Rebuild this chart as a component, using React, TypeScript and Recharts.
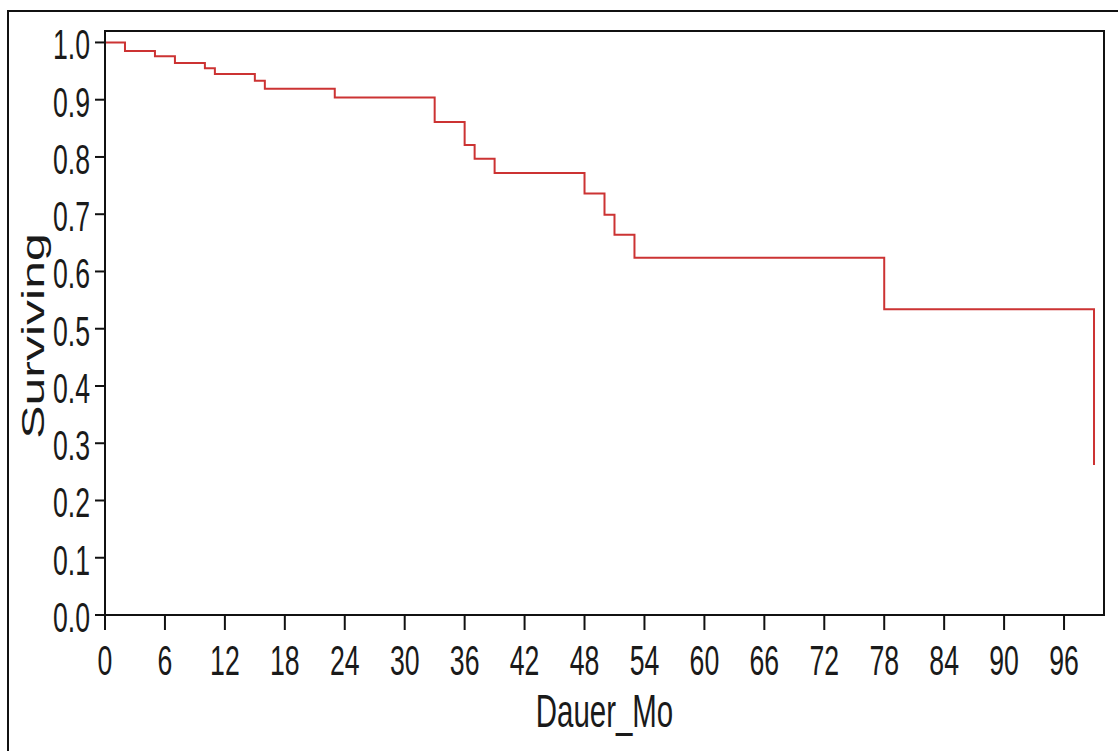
import React from "react";
import { LineChart, Line, XAxis, YAxis, ReferenceArea } from "recharts";

const months = [0, 2, 5, 7, 10, 11, 15, 16, 23, 33, 36, 37, 39, 48, 50, 51, 53, 78, 99];
const surviving = [1.0, 0.985, 0.976, 0.964, 0.955, 0.945, 0.933, 0.919, 0.904, 0.861, 0.821, 0.797, 0.772, 0.736, 0.699, 0.664, 0.624, 0.534, 0.262];
const xTicks = [0, 6, 12, 18, 24, 30, 36, 42, 48, 54, 60, 66, 72, 78, 84, 90, 96];
const yTicks = [0, 0.1, 0.2, 0.3, 0.4, 0.5, 0.6, 0.7, 0.8, 0.9, 1.0];

const data = months.map((m, i) => ({ month: m, surv: surviving[i] }));

const FONT = "'Liberation Sans', Arial, sans-serif";
const TEXT = "#1a1a1a";

const XTick = (props: any) => {
  const { x, y, payload } = props;
  return (
    <g transform={`translate(${x},${y + 43}) scale(0.62,1)`}>
      <text x={0} y={0} textAnchor="middle" fontFamily={FONT} fontSize={43} fill={TEXT}>
        {payload.value}
      </text>
    </g>
  );
};

const YTick = (props: any) => {
  const { x, y, payload } = props;
  return (
    <g transform={`translate(${x},${y + 17}) scale(0.62,1)`}>
      <text x={0} y={0} textAnchor="end" fontFamily={FONT} fontSize={43} fill={TEXT}>
        {Number(payload.value).toFixed(1)}
      </text>
    </g>
  );
};

const YLabel = (props: any) => {
  const vb = props.viewBox || { x: 0, y: 31, width: 105, height: 584 };
  const cx = vb.x + 44;
  const cy = vb.y + vb.height / 2 + 13;
  return (
    <g transform={`translate(${cx},${cy}) scale(0.62,1) rotate(-90)`}>
      <text x={0} y={0} textAnchor="middle" fontFamily={FONT} fontSize={50} fill={TEXT}>
        Surviving
      </text>
    </g>
  );
};

const XLabel = (props: any) => {
  const vb = props.viewBox || { x: 105, y: 615, width: 999, height: 100 };
  const cx = vb.x + vb.width / 2;
  const cy = vb.y + 112;
  return (
    <g transform={`translate(${cx},${cy}) scale(0.64,1)`}>
      <text x={0} y={0} textAnchor="middle" fontFamily={FONT} fontSize={46} fill={TEXT}>
        Dauer_Mo
      </text>
    </g>
  );
};

export default function App() {
  return (
    <div style={{ position: "fixed", left: 0, top: 0, width: 1118, height: 751, background: "#fff", overflow: "hidden" }}>
      <div
        style={{
          position: "absolute",
          left: 7,
          top: 10,
          width: 1200,
          height: 800,
          borderLeft: "2px solid #111",
          borderTop: "2px solid #111",
        }}
      />
      <div style={{ position: "absolute", left: 0, top: 0 }}>
        <LineChart
          width={1118}
          height={751}
          data={data}
          margin={{ top: 31, right: 14, bottom: 36, left: 0 }}
        >
          <XAxis
            dataKey="month"
            type="number"
            domain={[0, 100]}
            ticks={xTicks}
            interval={0}
            height={100}
            tickSize={15}
            tickMargin={2}
            tick={<XTick />}
            axisLine={{ stroke: "#111", strokeWidth: 2 }}
            tickLine={{ stroke: "#111", strokeWidth: 2 }}
            label={(p: any) => <XLabel {...p} />}
          />
          <YAxis
            type="number"
            domain={[0, 1.02]}
            ticks={yTicks}
            interval={0}
            width={105}
            tickSize={10}
            tickMargin={5}
            tick={<YTick />}
            axisLine={{ stroke: "#111", strokeWidth: 2 }}
            tickLine={{ stroke: "#111", strokeWidth: 2 }}
            label={(p: any) => <YLabel {...p} />}
          />
          <ReferenceArea x1={0} x2={100} y1={0} y2={1.02} fill="none" stroke="#111" strokeWidth={2} ifOverflow="extendDomain" />
          <Line
            type="stepAfter"
            dataKey="surv"
            stroke="#cc3333"
            strokeWidth={2}
            dot={false}
            activeDot={false}
            isAnimationActive={false}
          />
        </LineChart>
      </div>
    </div>
  );
}
